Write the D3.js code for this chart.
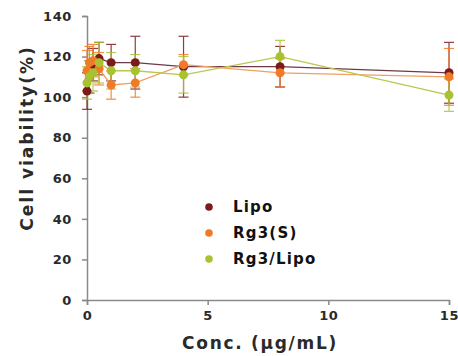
<!DOCTYPE html>
<html><head><meta charset="utf-8">
<script src="https://cdn.jsdelivr.net/npm/d3@7"></script>
<style>body{margin:0;background:#fff}</style>
</head><body>
<svg id="c" width="458" height="356"></svg>
<script>
const conc = [0, 0.1, 0.25, 0.5, 1, 2, 4, 8, 15];
const seriesNames = ["Lipo", "Rg3(S)", "Rg3/Lipo"];
const lipo = [103, 110, 116, 119, 117, 117, 115, 115, 112];
const rg3s = [113, 117, 118, 114, 106, 107, 116, 112, 110];
const rg3lipo = [107, 110, 112, 117, 113, 113, 111, 120, 101];
const lipoErr = [9, 8, 8, 8, 9, 13, 15, 10, 15];
const rg3sErr = [10, 8, 8, 8, 7, 7, 5, 7, 14];
const rg3lipoErr = [8, 8, 9, 10, 9, 8, 9, 8, 8];
const xTicks = [0, 5, 10, 15];
const yTicks = [0, 20, 40, 60, 80, 100, 120, 140];

const colors = ["#7b1c1c", "#f07a28", "#a9c232"];
const lineColors = ["#6e3a4a", "#f0a060", "#b8c850"];
const data = [lipo, rg3s, rg3lipo];
const errs = [lipoErr, rg3sErr, rg3lipoErr];

const svg = d3.select("#c");
const x = d3.scaleLinear().domain([0, 15]).range([87, 449]);
const y = d3.scaleLinear().domain([0, 140]).range([300, 16]);
const font = "'DejaVu Sans', Verdana, sans-serif";

// axes
const xa = svg.append("g").attr("transform", "translate(0,300)")
  .call(d3.axisBottom(x).tickValues(xTicks).tickSize(5).tickPadding(6));
const ya = svg.append("g").attr("transform", "translate(87,0)")
  .call(d3.axisLeft(y).tickValues(yTicks).tickSize(5).tickPadding(10));
[xa, ya].forEach(a => {
  a.select(".domain").attr("stroke", "#8a8a8a").attr("stroke-width", 1.5);
  a.selectAll(".tick line").attr("stroke", "#8a8a8a").attr("stroke-width", 1.5);
  a.selectAll(".tick text").attr("fill", "#2a2a2a").attr("font-family", font)
    .attr("font-weight", "bold").attr("font-size", 13).attr("letter-spacing", 0.6);
});

// series: lines, error bars, points
data.forEach((vals, si) => {
  const pts = conc.map((c, i) => ({c, v: vals[i], e: errs[si][i]}));
  svg.append("path").datum(pts)
    .attr("fill", "none").attr("stroke", lineColors[si]).attr("stroke-width", 1.3)
    .attr("d", d3.line().x(d => x(d.c)).y(d => y(d.v)));
  const g = svg.append("g").attr("stroke", colors[si]).attr("stroke-width", 1.2).attr("opacity", 0.85);
  g.selectAll("line.v").data(pts).join("line")
    .attr("x1", d => x(d.c)).attr("x2", d => x(d.c))
    .attr("y1", d => y(d.v - d.e)).attr("y2", d => y(d.v + d.e));
  g.selectAll("line.t").data(pts).join("line")
    .attr("x1", d => x(d.c) - 5).attr("x2", d => x(d.c) + 5)
    .attr("y1", d => y(d.v + d.e)).attr("y2", d => y(d.v + d.e));
  g.selectAll("line.b").data(pts).join("line")
    .attr("x1", d => x(d.c) - 5).attr("x2", d => x(d.c) + 5)
    .attr("y1", d => y(d.v - d.e)).attr("y2", d => y(d.v - d.e));
});
data.forEach((vals, si) => {
  svg.append("g").selectAll("circle").data(conc.map((c, i) => ({c, v: vals[i]}))).join("circle")
    .attr("cx", d => x(d.c)).attr("cy", d => y(d.v)).attr("r", 4.5)
    .attr("fill", colors[si]);
});

// legend
const leg = svg.append("g");
seriesNames.forEach((n, i) => {
  const yy = 207 + i * 26;
  leg.append("circle").attr("cx", 209).attr("cy", yy).attr("r", 3.8).attr("fill", colors[i]);
  leg.append("text").attr("x", 233).attr("y", yy).attr("dy", "0.35em")
    .attr("font-family", font).attr("font-weight", "bold").attr("font-size", 15)
    .attr("letter-spacing", 1.2).attr("fill", "#111").text(n);
});

// axis titles
svg.append("text").attr("x", 260).attr("y", 343).attr("dy", "0.35em").attr("text-anchor", "middle")
  .attr("font-family", font).attr("font-weight", "bold").attr("font-size", 17)
  .attr("letter-spacing", 1.7).attr("fill", "#2a2a2a")
  .text("Conc. (μg/mL)");
svg.append("text").attr("transform", "translate(27,138) rotate(-90)").attr("dy", "0.35em")
  .attr("text-anchor", "middle")
  .attr("font-family", font).attr("font-weight", "bold").attr("font-size", 17)
  .attr("letter-spacing", 2).attr("fill", "#2a2a2a")
  .text("Cell viability(%)");
</script>
</body></html>
